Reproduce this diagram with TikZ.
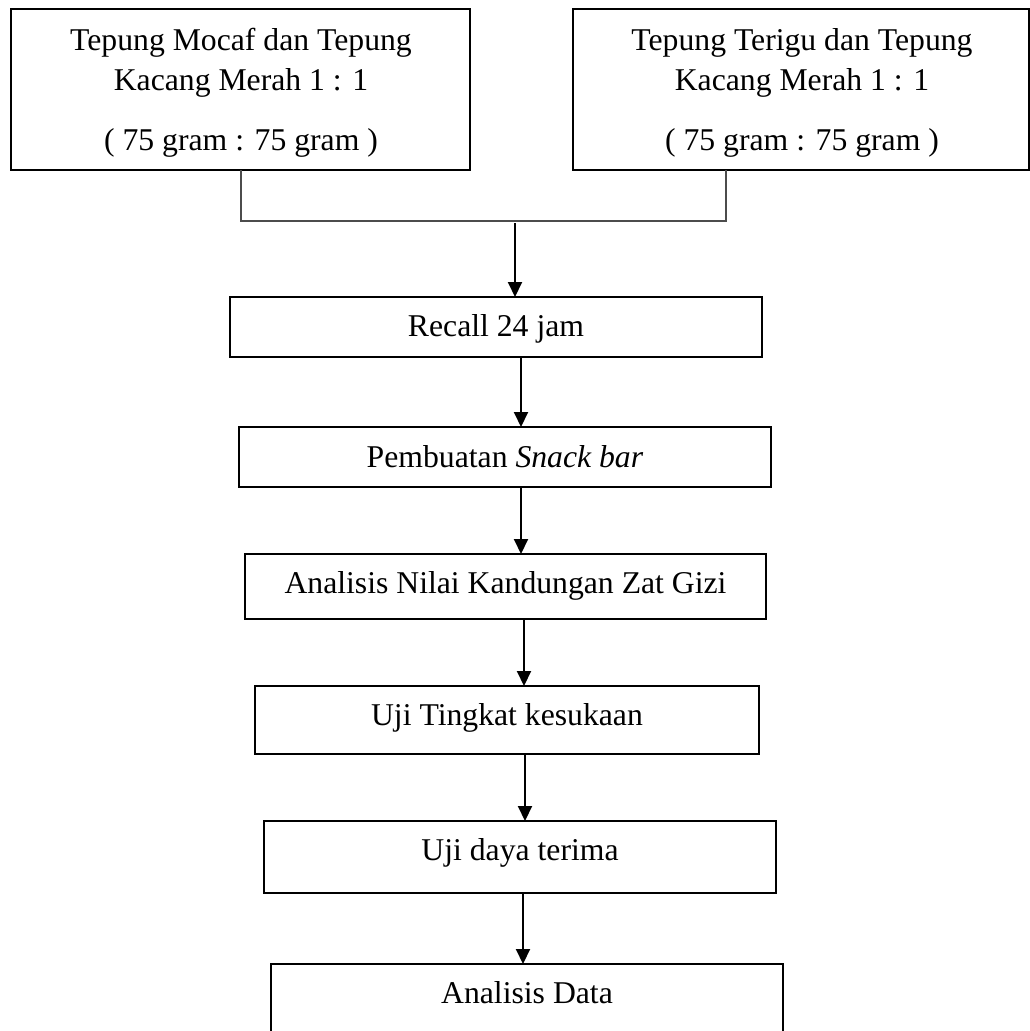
\documentclass[tikz,border=0pt]{standalone}
\usepackage{fontspec}
\setmainfont{Liberation Serif}
\usetikzlibrary{arrows.meta}
\begin{document}
\begin{tikzpicture}[x=1pt,y=-1pt,
  every node/.style={font=\fontsize{31.7}{38}\selectfont},
  flowbox/.style={draw, line width=2.2pt, rectangle, inner sep=0pt, outer sep=0pt, anchor=north west, align=center},
  txt/.style={inner sep=0pt, anchor=base},
  joinline/.style={draw=black!70, line width=1.3pt},
  arr/.style={draw, line width=2pt, -{Triangle[length=15pt,width=14pt]}}]
\useasboundingbox (0,0) rectangle (1030,1031);
% top boxes
\node[flowbox, minimum width=459pt, minimum height=161pt] (mocaf) at (11,9) {};
\node[txt] (m1) at (241,50) {Tepung Mocaf dan Tepung};
\node[txt] (m2) at (241,90) {Kacang Merah 1 : 1};
\node[txt] (m3) at (241,150) {( 75 gram : 75 gram )};
\node[flowbox, minimum width=456pt, minimum height=161pt] (terigu) at (573,9) {};
\node[txt] (t1) at (802,50) {Tepung Terigu dan Tepung};
\node[txt] (t2) at (802,90) {Kacang Merah 1 : 1};
\node[txt] (t3) at (802,150) {( 75 gram : 75 gram )};
% flow boxes
\node[flowbox, minimum width=532pt, text height=39pt, text depth=21pt] (recall) at (230,297) {Recall 24 jam};
\node[flowbox, minimum width=532pt, text height=40pt, text depth=20pt] (buat) at (239,427) {Pembuatan \textit{Snack bar}};
\node[flowbox, minimum width=521pt, text height=39pt, text depth=26pt] (gizi) at (245,554) {Analisis Nilai Kandungan Zat Gizi};
\node[flowbox, minimum width=504pt, text height=39pt, text depth=29pt] (suka) at (255,686) {Uji Tingkat kesukaan};
\node[flowbox, minimum width=512pt, text height=39pt, text depth=33pt] (terima) at (264,821) {Uji daya terima};
\node[flowbox, minimum width=512pt, text height=39pt, text depth=42pt] (data) at (271,964) {Analisis Data};
% joining lines
\coordinate (jl) at (241,221);
\coordinate (jr) at (726,221);
\coordinate (jm) at (515,223);
\draw[joinline] (mocaf.south -| jl) -- (jl) -- (jr) -- (terigu.south -| jr);
% arrows
\draw[arr] (jm) -- (recall.north -| jm);
\draw[arr] (recall.south -| 521,0) -- (buat.north -| 521,0);
\draw[arr] (buat.south -| 521,0) -- (gizi.north -| 521,0);
\draw[arr] (gizi.south -| 524,0) -- (suka.north -| 524,0);
\draw[arr] (suka.south -| 525,0) -- (terima.north -| 525,0);
\draw[arr] (terima.south -| 523,0) -- (data.north -| 523,0);
\end{tikzpicture}
\end{document}
